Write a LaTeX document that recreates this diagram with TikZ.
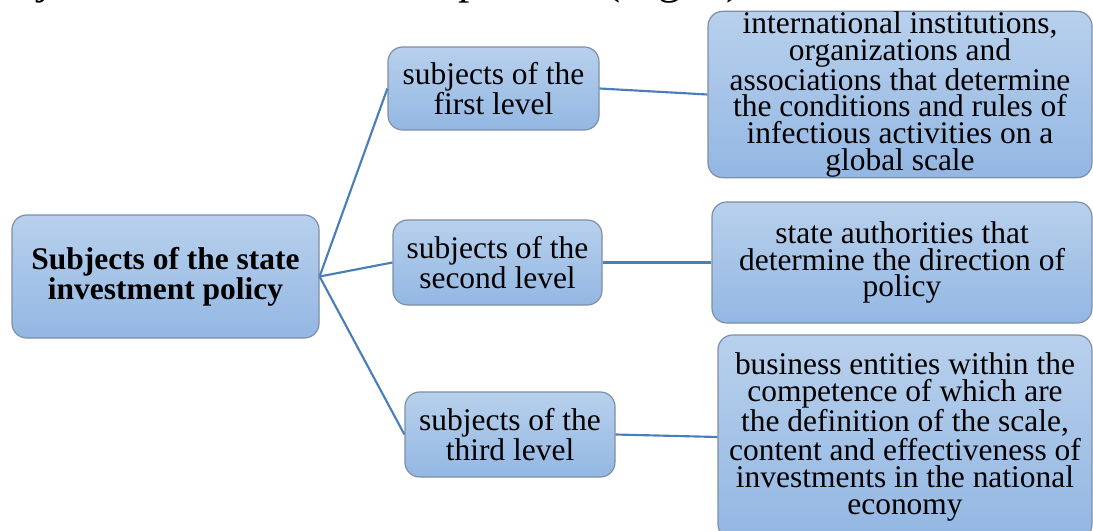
\documentclass[tikz,border=0pt]{standalone}
\usepackage{fontspec}
\setmainfont{Liberation Serif}
\definecolor{boxtop}{HTML}{B8D0EC}
\definecolor{boxbot}{HTML}{93B7E3}
\definecolor{boxedge}{HTML}{7D8EA6}
\definecolor{link}{HTML}{4A7EBB}
\tikzset{
  subjbox/.style={rectangle, rounded corners=11pt, draw=boxedge, line width=0.9pt,
    top color=boxtop, bottom color=boxbot, align=center, inner sep=0pt,
    font=\fontsize{23.6}{20.2}\selectfont},
  link/.style={draw=link, line width=1.6pt},
}
\begin{document}
\begin{tikzpicture}[x=0.75pt, y=-0.75pt]
\useasboundingbox (0,0) rectangle (1093,531);

% closing words of the paragraph above the figure
\node[anchor=base east, inner sep=0pt, font=\fontsize{34}{40}\selectfont] (para) at (753,-6)
  {subjects of the investment process (Fig.~1).};

\node[subjbox, minimum width=307*0.75pt, minimum height=123*0.75pt] (main) at (165.5,276.5)
  {\bfseries Subjects of the state\\\bfseries investment policy};

\node[subjbox, minimum width=211*0.75pt, minimum height=83*0.75pt] (lvl1) at (493.5,88.5)
  {subjects of the\\first level};
\node[subjbox, minimum width=209*0.75pt, minimum height=85*0.75pt] (lvl2) at (497.5,262.5)
  {subjects of the\\second level};
\node[subjbox, minimum width=210*0.75pt, minimum height=85*0.75pt] (lvl3) at (510,434.5)
  {subjects of the\\third level};

\node[subjbox, minimum width=384*0.75pt, minimum height=163*0.75pt] (int) at (900,94.5)
  {international institutions,\\organizations and\\associations that determine\\the conditions and rules of\\infectious activities on a\\global scale};
\node[subjbox, minimum width=380*0.75pt, minimum height=121*0.75pt] (state) at (902,262.5)
  {state authorities that\\determine the direction of\\policy};
\node[subjbox, minimum width=374*0.75pt, minimum height=204*0.75pt] (biz) at (905,437)
  {business entities within the\\competence of which are\\the definition of the scale,\\content and effectiveness of\\investments in the national\\economy};

\draw[link] (main.east) -- (lvl1.west);
\draw[link] (main.east) -- (lvl2.west);
\draw[link] (main.east) -- (lvl3.west);
\draw[link] (lvl1.east) -- (int.west);
\draw[link] (lvl2.east) -- (state.west);
\draw[link] (lvl3.east) -- (biz.west);
\end{tikzpicture}
\end{document}
